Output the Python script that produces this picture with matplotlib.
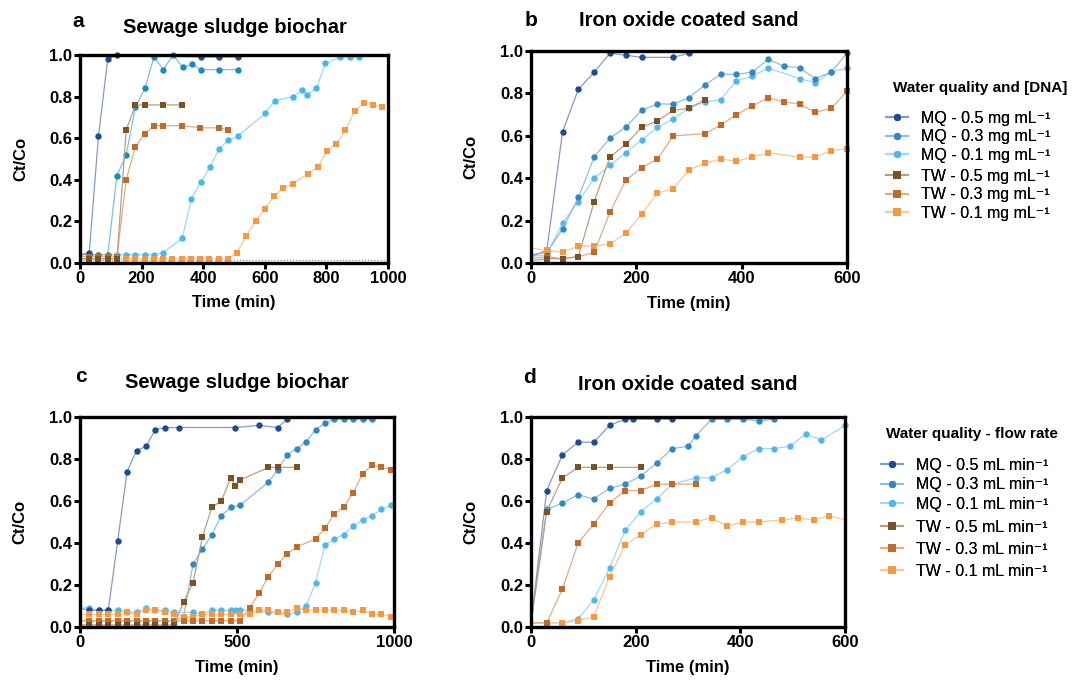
"""
Breakthrough curves (Ct/Co) for DNA in biochar and iron oxide coated sand columns.
"""

import numpy as np
import matplotlib
matplotlib.use('Agg')
import matplotlib.pyplot as plt
from matplotlib.lines import Line2D
from matplotlib.colors import to_rgb

plt.rcParams['font.family'] = ['Liberation Sans', 'DejaVu Sans']

# ---------------- panel a: sewage sludge biochar, [DNA] ----------------
a_mq05_t = [0, 30, 60, 90, 120, 392, 452, 512]
a_mq05_y = [0.04, 0.05, 0.61, 0.98, 1.00, 0.99, 0.99, 0.99]
a_mq03_t = [0, 30, 60, 90, 120, 150, 180, 211, 240, 271, 302, 334, 364, 392, 452, 512]
a_mq03_y = [0.04, 0.04, 0.04, 0.04, 0.42, 0.52, 0.75, 0.84, 0.99, 0.93, 1.00, 0.94, 0.955, 0.93, 0.93, 0.93]
a_mq01_t = [0, 30, 60, 90, 120, 150, 180, 210, 240, 270, 332, 362, 392, 422, 452, 482, 512,
            602, 632, 692, 722, 737, 767, 797, 845, 875, 905]
a_mq01_y = [0.04, 0.04, 0.04, 0.04, 0.04, 0.04, 0.04, 0.04, 0.04, 0.05, 0.12, 0.31, 0.39, 0.46,
            0.55, 0.59, 0.61, 0.72, 0.78, 0.80, 0.83, 0.81, 0.84, 0.96, 0.99, 0.99, 0.99]
a_tw05_t = [0, 30, 60, 90, 120, 150, 180, 210, 270, 330]
a_tw05_y = [0.02, 0.02, 0.02, 0.02, 0.02, 0.64, 0.76, 0.76, 0.76, 0.76]
a_tw03_t = [0, 30, 60, 90, 120, 150, 180, 210, 240, 270, 330, 390, 450, 480]
a_tw03_y = [0.03, 0.03, 0.03, 0.03, 0.03, 0.40, 0.56, 0.62, 0.66, 0.66, 0.66, 0.65, 0.65, 0.64]
a_tw01_t = [0, 30, 60, 90, 120, 150, 180, 210, 240, 270, 300, 330, 360, 390, 420, 450, 480,
            510, 540, 570, 600, 630, 660, 690, 740, 772, 802, 832, 862, 892, 922, 952, 982]
a_tw01_y = [0.02, 0.02, 0.02, 0.02, 0.02, 0.02, 0.02, 0.02, 0.02, 0.02, 0.02, 0.02, 0.02, 0.02,
            0.02, 0.02, 0.02, 0.05, 0.13, 0.20, 0.26, 0.32, 0.36, 0.38, 0.43, 0.46, 0.54, 0.57,
            0.64, 0.73, 0.77, 0.76, 0.75]
a_baseline = 0.015

# ---------------- panel b: iron oxide coated sand, [DNA] ----------------
b_mq05_t = [0, 30, 60, 90, 120, 150, 180, 210, 270, 300]
b_mq05_y = [0.03, 0.06, 0.62, 0.82, 0.90, 0.99, 0.98, 0.97, 0.97, 0.99]
b_mq03_t = [0, 30, 60, 90, 120, 150, 180, 210, 240, 270, 300, 330, 360, 390, 420, 450, 480,
            510, 540, 570, 600]
b_mq03_y = [0.04, 0.05, 0.16, 0.31, 0.50, 0.59, 0.64, 0.72, 0.75, 0.75, 0.78, 0.84, 0.89, 0.89,
            0.90, 0.96, 0.93, 0.92, 0.87, 0.90, 0.99]
b_mq01_t = [0, 30, 60, 90, 120, 150, 180, 210, 240, 270, 300, 330, 360, 390, 420, 450,
            510, 540, 570, 600]
b_mq01_y = [0.03, 0.04, 0.19, 0.29, 0.40, 0.46, 0.52, 0.58, 0.64, 0.68, 0.73, 0.76, 0.77, 0.86,
            0.88, 0.92, 0.87, 0.85, 0.90, 0.92]
b_tw05_t = [0, 30, 60, 90, 120, 150, 180, 210, 240, 270, 300, 330]
b_tw05_y = [0.01, 0.02, 0.02, 0.03, 0.29, 0.50, 0.56, 0.64, 0.67, 0.72, 0.73, 0.77]
b_tw03_t = [0, 30, 60, 90, 120, 150, 180, 210, 240, 270, 330, 360, 390, 420, 450, 480,
            510, 540, 570, 600]
b_tw03_y = [0.02, 0.03, 0.02, 0.03, 0.05, 0.24, 0.39, 0.45, 0.49, 0.60, 0.61, 0.65, 0.70, 0.74,
            0.78, 0.76, 0.75, 0.71, 0.73, 0.81]
b_tw01_t = [0, 30, 60, 90, 120, 150, 180, 210, 240, 270, 300, 330, 360, 390, 420, 450,
            510, 540, 570, 600]
b_tw01_y = [0.07, 0.06, 0.05, 0.08, 0.08, 0.09, 0.14, 0.23, 0.33, 0.35, 0.44, 0.47, 0.49, 0.48,
            0.50, 0.52, 0.50, 0.50, 0.53, 0.54]

# ---------------- panel c: sewage sludge biochar, flow rate ----------------
c_mq05_t = [0, 30, 60, 90, 120, 150, 180, 210, 240, 270, 315, 495, 570, 630, 660]
c_mq05_y = [0.09, 0.08, 0.08, 0.08, 0.41, 0.74, 0.84, 0.86, 0.94, 0.95, 0.95, 0.95, 0.96, 0.95, 0.99]
c_mq03_t = [0, 30, 60, 90, 120, 150, 180, 210, 240, 270, 300, 330, 360, 390, 420, 450, 480,
            510, 600, 630, 660, 690, 720, 750, 780, 810, 840, 870, 900, 930]
c_mq03_y = [0.03, 0.03, 0.03, 0.03, 0.03, 0.03, 0.03, 0.03, 0.03, 0.03, 0.03, 0.05, 0.30, 0.37,
            0.44, 0.53, 0.57, 0.58, 0.69, 0.75, 0.82, 0.85, 0.88, 0.94, 0.97, 0.99, 0.99, 0.99,
            0.99, 0.99]
c_mq01_t = [0, 30, 60, 90, 120, 150, 180, 210, 240, 270, 300, 360, 390, 420, 450, 480, 495, 510,
            600, 660, 690, 720, 750, 780, 810, 840, 870, 900, 930, 960, 990]
c_mq01_y = [0.10, 0.09, 0.08, 0.08, 0.08, 0.07, 0.07, 0.09, 0.08, 0.08, 0.07, 0.07, 0.06, 0.08,
            0.08, 0.08, 0.08, 0.08, 0.07, 0.06, 0.07, 0.10, 0.21, 0.39, 0.42, 0.44, 0.48, 0.51,
            0.53, 0.56, 0.58]
c_tw05_t = [0, 30, 60, 90, 120, 150, 180, 210, 240, 270, 300, 330, 360, 390, 420, 450, 480,
            495, 510, 600, 630, 690]
c_tw05_y = [0.01, 0.01, 0.01, 0.01, 0.01, 0.01, 0.01, 0.01, 0.01, 0.01, 0.01, 0.12, 0.21, 0.43,
            0.57, 0.60, 0.71, 0.67, 0.70, 0.76, 0.76, 0.76]
c_tw03_t = [0, 30, 60, 90, 120, 150, 180, 210, 240, 270, 300, 330, 360, 390, 420, 450, 480,
            510, 540, 570, 600, 630, 660, 690, 750, 780, 810, 840, 870, 900, 930, 960, 990]
c_tw03_y = [0.03, 0.03, 0.03, 0.03, 0.03, 0.03, 0.03, 0.03, 0.03, 0.03, 0.03, 0.03, 0.03, 0.03,
            0.03, 0.03, 0.03, 0.03, 0.09, 0.16, 0.24, 0.30, 0.35, 0.38, 0.42, 0.47, 0.54, 0.57,
            0.64, 0.73, 0.77, 0.76, 0.75]
c_tw01_t = [0, 30, 60, 90, 120, 150, 180, 210, 240, 270, 300, 330, 360, 390, 420, 450, 480,
            510, 540, 570, 600, 630, 660, 690, 720, 750, 780, 810, 840, 870, 900, 930, 960, 990]
c_tw01_y = [0.06, 0.06, 0.06, 0.06, 0.06, 0.07, 0.06, 0.08, 0.08, 0.07, 0.06, 0.05, 0.05, 0.06,
            0.06, 0.06, 0.06, 0.06, 0.06, 0.08, 0.08, 0.07, 0.07, 0.09, 0.08, 0.08, 0.08, 0.08,
            0.08, 0.07, 0.08, 0.06, 0.06, 0.05]

# ---------------- panel d: iron oxide coated sand, flow rate ----------------
d_mq05_t = [0, 30, 60, 90, 120, 150, 180, 195, 240, 270]
d_mq05_y = [0.02, 0.65, 0.82, 0.88, 0.88, 0.96, 0.99, 0.99, 0.99, 0.99]
d_mq03_t = [0, 30, 60, 90, 120, 150, 180, 210, 240, 270, 300, 315, 345, 375, 405, 435, 465]
d_mq03_y = [0.02, 0.56, 0.59, 0.63, 0.61, 0.66, 0.68, 0.72, 0.78, 0.85, 0.86, 0.91, 0.99, 0.99,
            0.99, 0.98, 0.99]
d_mq01_t = [0, 30, 60, 90, 120, 150, 180, 210, 240, 270, 315, 345, 375, 405, 435, 465, 495,
            525, 555, 600]
d_mq01_y = [0.02, 0.02, 0.02, 0.04, 0.13, 0.28, 0.46, 0.55, 0.61, 0.68, 0.71, 0.71, 0.75, 0.81,
            0.85, 0.85, 0.86, 0.92, 0.89, 0.96]
d_tw05_t = [0, 30, 60, 90, 120, 150, 210]
d_tw05_y = [0.02, 0.55, 0.71, 0.76, 0.76, 0.76, 0.76]
d_tw03_t = [0, 30, 60, 90, 120, 150, 180, 210, 240, 270, 315]
d_tw03_y = [0.02, 0.02, 0.18, 0.40, 0.49, 0.59, 0.65, 0.65, 0.68, 0.68, 0.68]
d_tw01_t = [0, 30, 60, 90, 120, 150, 180, 210, 240, 270, 315, 345, 375, 405, 435, 480, 510,
            540, 570, 600]
d_tw01_y = [0.02, 0.02, 0.02, 0.03, 0.05, 0.24, 0.39, 0.44, 0.49, 0.50, 0.50, 0.52, 0.48, 0.50,
            0.50, 0.51, 0.52, 0.51, 0.53, 0.51]

dna_labels = ['MQ - 0.5 mg mL⁻¹', 'MQ - 0.3 mg mL⁻¹', 'MQ - 0.1 mg mL⁻¹',
              'TW - 0.5 mg mL⁻¹', 'TW - 0.3 mg mL⁻¹', 'TW - 0.1 mg mL⁻¹']
flow_labels = ['MQ - 0.5 mL min⁻¹', 'MQ - 0.3 mL min⁻¹', 'MQ - 0.1 mL min⁻¹',
               'TW - 0.5 mL min⁻¹', 'TW - 0.3 mL min⁻¹', 'TW - 0.1 mL min⁻¹']

colors = ['#1d4b92', '#3288bf', '#52b6ec', '#7b5321', '#c06c28', '#f19a43']
colors_a = ['#1c4c96', '#1a8cc0', '#45b8f0', '#7b5321', '#c06c28', '#f19a43']
markers = ['o', 'o', 'o', 's', 's', 's']
msizes = [4.6, 4.6, 4.6, 5.0, 5.0, 5.0]
draw_order = [2, 1, 0, 5, 4, 3]


def light(c, f=0.45):
    r, g, b = to_rgb(c)
    return (r + (1 - r) * f, g + (1 - g) * f, b + (1 - b) * f)


def draw_panel(ax, series, xmax, xticks, cols=colors, last_marker=None):
    for i in draw_order:
        t, y = series[i]
        me = slice(1, None)
        if last_marker is not None and last_marker[i] is False:
            me = slice(1, len(t) - 1)
        ax.plot(t, y, '-', color=light(cols[i]), lw=0.9, marker=markers[i],
                ms=msizes[i], mfc=cols[i], mec=cols[i], mew=0, markevery=me,
                clip_on=False, zorder=3)
    ax.set_xlim(0, xmax)
    ax.set_ylim(0, 1.0)
    ax.set_xticks(xticks)
    ax.set_yticks([0, 0.2, 0.4, 0.6, 0.8, 1.0])
    ax.set_yticklabels(['0.0', '0.2', '0.4', '0.6', '0.8', '1.0'])
    for s in ax.spines.values():
        s.set_linewidth(2.4)
        s.set_zorder(4)
    ax.tick_params(direction='out', length=4.5, width=2.2, labelsize=12, pad=1)
    for lab in ax.get_xticklabels() + ax.get_yticklabels():
        lab.set_fontweight('bold')
    ax.set_xlabel('Time (min)', fontsize=12, fontweight='bold')
    ax.set_ylabel('Ct/Co', fontsize=12, fontweight='bold')
    ax.xaxis.set_label_coords(0.5, -0.155)
    ax.yaxis.set_label_coords(-0.168, 0.5)


W, H = 1075, 682
fig = plt.figure(figsize=(W / 100, H / 100), dpi=100)


def px_axes(left, right, top, bottom):
    return fig.add_axes([left / W, 1 - bottom / H, (right - left) / W, (bottom - top) / H])


ax_a = px_axes(80, 388, 55, 263)
ax_b = px_axes(531, 847, 51, 263)
ax_c = px_axes(80, 394, 417, 627)
ax_d = px_axes(531, 845, 417, 627)

draw_panel(ax_a, [(a_mq05_t, a_mq05_y), (a_mq03_t, a_mq03_y), (a_mq01_t, a_mq01_y),
                  (a_tw05_t, a_tw05_y), (a_tw03_t, a_tw03_y), (a_tw01_t, a_tw01_y)],
           1000, [0, 200, 400, 600, 800, 1000], cols=colors_a)
ax_a.axhline(a_baseline, color='#9a9a9a', lw=0.9, ls=(0, (1, 1.5)), zorder=2)
draw_panel(ax_b, [(b_mq05_t, b_mq05_y), (b_mq03_t, b_mq03_y), (b_mq01_t, b_mq01_y),
                  (b_tw05_t, b_tw05_y), (b_tw03_t, b_tw03_y), (b_tw01_t, b_tw01_y)],
           600, [0, 200, 400, 600])
draw_panel(ax_c, [(c_mq05_t, c_mq05_y), (c_mq03_t, c_mq03_y), (c_mq01_t, c_mq01_y),
                  (c_tw05_t, c_tw05_y), (c_tw03_t, c_tw03_y), (c_tw01_t, c_tw01_y)],
           1000, [0, 500, 1000])
draw_panel(ax_d, [(d_mq05_t, d_mq05_y), (d_mq03_t, d_mq03_y), (d_mq01_t, d_mq01_y),
                  (d_tw05_t, d_tw05_y), (d_tw03_t, d_tw03_y), (d_tw01_t, d_tw01_y)],
           600, [0, 200, 400, 600], last_marker=[True, True, True, True, True, False])


def fig_text(x, y, s, **kw):
    fig.text(x / W, 1 - y / H, s, va='baseline', **kw)


# panel letters and titles
fig_text(72, 27, 'a', fontsize=15, fontweight='bold')
fig_text(525, 26, 'b', fontsize=15, fontweight='bold')
fig_text(75, 382, 'c', fontsize=15, fontweight='bold')
fig_text(523, 383, 'd', fontsize=15, fontweight='bold')
fig_text(235, 33, 'Sewage sludge biochar', fontsize=14.5, fontweight='bold', ha='center')
fig_text(689, 26, 'Iron oxide coated sand', fontsize=14.5, fontweight='bold', ha='center')
fig_text(237, 388, 'Sewage sludge biochar', fontsize=14.5, fontweight='bold', ha='center')
fig_text(688, 390, 'Iron oxide coated sand', fontsize=14.5, fontweight='bold', ha='center')

# legends
fig_text(893, 92, 'Water quality and [DNA]', fontsize=11, fontweight='bold')
fig_text(886, 438, 'Water quality - flow rate', fontsize=11, fontweight='bold')


def handle(i):
    return Line2D([], [], color=light(colors[i]), lw=1.5, marker=markers[i], ms=msizes[i] + 0.6,
                  mfc=colors[i], mec=colors[i], mew=0)


def add_legend(idx, labels, x, y, spacing):
    leg = fig.legend([handle(i) for i in idx], [labels[i] for i in idx], loc='upper left',
                     bbox_to_anchor=(x / W, 1 - y / H), frameon=False, fontsize=11.5,
                     handlelength=1.4, handletextpad=0.8, labelspacing=spacing,
                     borderpad=0, borderaxespad=0)
    fig.add_artist(leg)


add_legend([0, 1, 2], dna_labels, 886, 111, 0.21)
add_legend([3, 4, 5], dna_labels, 886, 169, 0.21)
add_legend([0, 1, 2], flow_labels, 881, 458, 0.275)
add_legend([3, 4, 5], flow_labels, 881, 520, 0.43)

fig.savefig('out.png', dpi=100)
